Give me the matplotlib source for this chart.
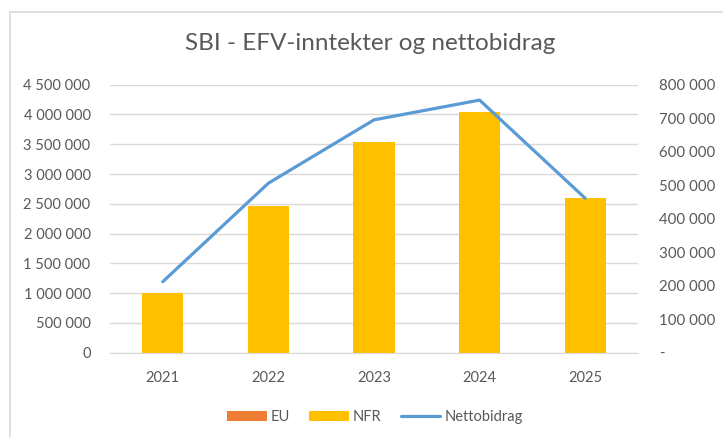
import matplotlib
matplotlib.use("Agg")
import matplotlib.pyplot as plt
from matplotlib.patches import Rectangle
from matplotlib.ticker import FuncFormatter
import numpy as np

years = ["2021", "2022", "2023", "2024", "2025"]
eu = [0, 0, 0, 0, 0]
nfr = [1_000_000, 2_470_000, 3_540_000, 4_050_000, 2_600_000]
nettobidrag = [212_000, 506_000, 695_000, 754_000, 461_000]

TEXT = "#595959"
GRID = "#D9D9D9"
ORANGE = "#ED7D31"
GOLD = "#FFC000"
BLUE = "#5B9BD5"

plt.rcParams["font.family"] = ["Lato", "DejaVu Sans"]


def _space_thousands(v, _pos=None):
    return f"{int(round(v)):,}".replace(",", " ")


def _right_fmt(v, _pos=None):
    if abs(v) < 1:
        return "-"
    return _space_thousands(v)


fig = plt.figure(figsize=(7.23, 4.37), dpi=100)

# chart border (only left and top edges are inside the crop)
fig.patches.append(Rectangle((9.5 / 723, -0.1), 1.2, 1.1 - 11.5 / 437, transform=fig.transFigure,
                             fill=False, edgecolor="#D9D9D9", linewidth=1.2))

ax = fig.add_axes([110 / 723, 84.3 / 437, 528 / 723, 268 / 437])
x = np.arange(len(years))
width = 0.39

ax.bar(x, eu, width, color=ORANGE, label="EU", zorder=2)
ax.bar(x, nfr, width, bottom=eu, color=GOLD, label="NFR", zorder=2)

ax.set_xlim(-0.5, len(years) - 0.5)
ax.set_ylim(0, 4_500_000)
ax.set_yticks(np.arange(0, 4_500_001, 500_000))
ax.yaxis.set_major_formatter(FuncFormatter(_space_thousands))
ax.set_xticks(x)
ax.set_xticklabels(years)
ax.grid(axis="y", color=GRID, linewidth=1.0, zorder=0)
ax.set_axisbelow(True)
for side in ("top", "right", "left"):
    ax.spines[side].set_visible(False)
ax.spines["bottom"].set_color(GRID)
ax.tick_params(axis="both", length=0, colors=TEXT, labelsize=10.5)
ax.tick_params(axis="y", pad=14)
ax.tick_params(axis="x", pad=13)

ax2 = ax.twinx()
(line,) = ax2.plot(x, nettobidrag, color=BLUE, linewidth=2.3, label="Nettobidrag",
                   solid_capstyle="round", zorder=3)
ax2.set_ylim(0, 800_000)
ax2.set_yticks(np.arange(0, 800_001, 100_000))
ax2.yaxis.set_major_formatter(FuncFormatter(_right_fmt))
for side in ("top", "right", "left", "bottom"):
    ax2.spines[side].set_visible(False)
ax2.tick_params(axis="y", length=0, colors=TEXT, labelsize=10.8, pad=15)

fig.text(370 / 723, 1 - 44 / 437, "SBI - EFV-inntekter og nettobidrag", ha="center", va="center",
         fontsize=17.5, color=TEXT)

handles = ax.get_legend_handles_labels()[0] + [line]
labels = ["EU", "NFR", "Nettobidrag"]
fig.legend(handles, labels, loc="center", bbox_to_anchor=(375 / 723, 1 - 417 / 437), ncol=3,
           frameon=False, fontsize=10.5, labelcolor=TEXT, handlelength=2.7, handleheight=0.7,
           handletextpad=0.3, columnspacing=1.3)

fig.savefig("out.png", dpi=100)
